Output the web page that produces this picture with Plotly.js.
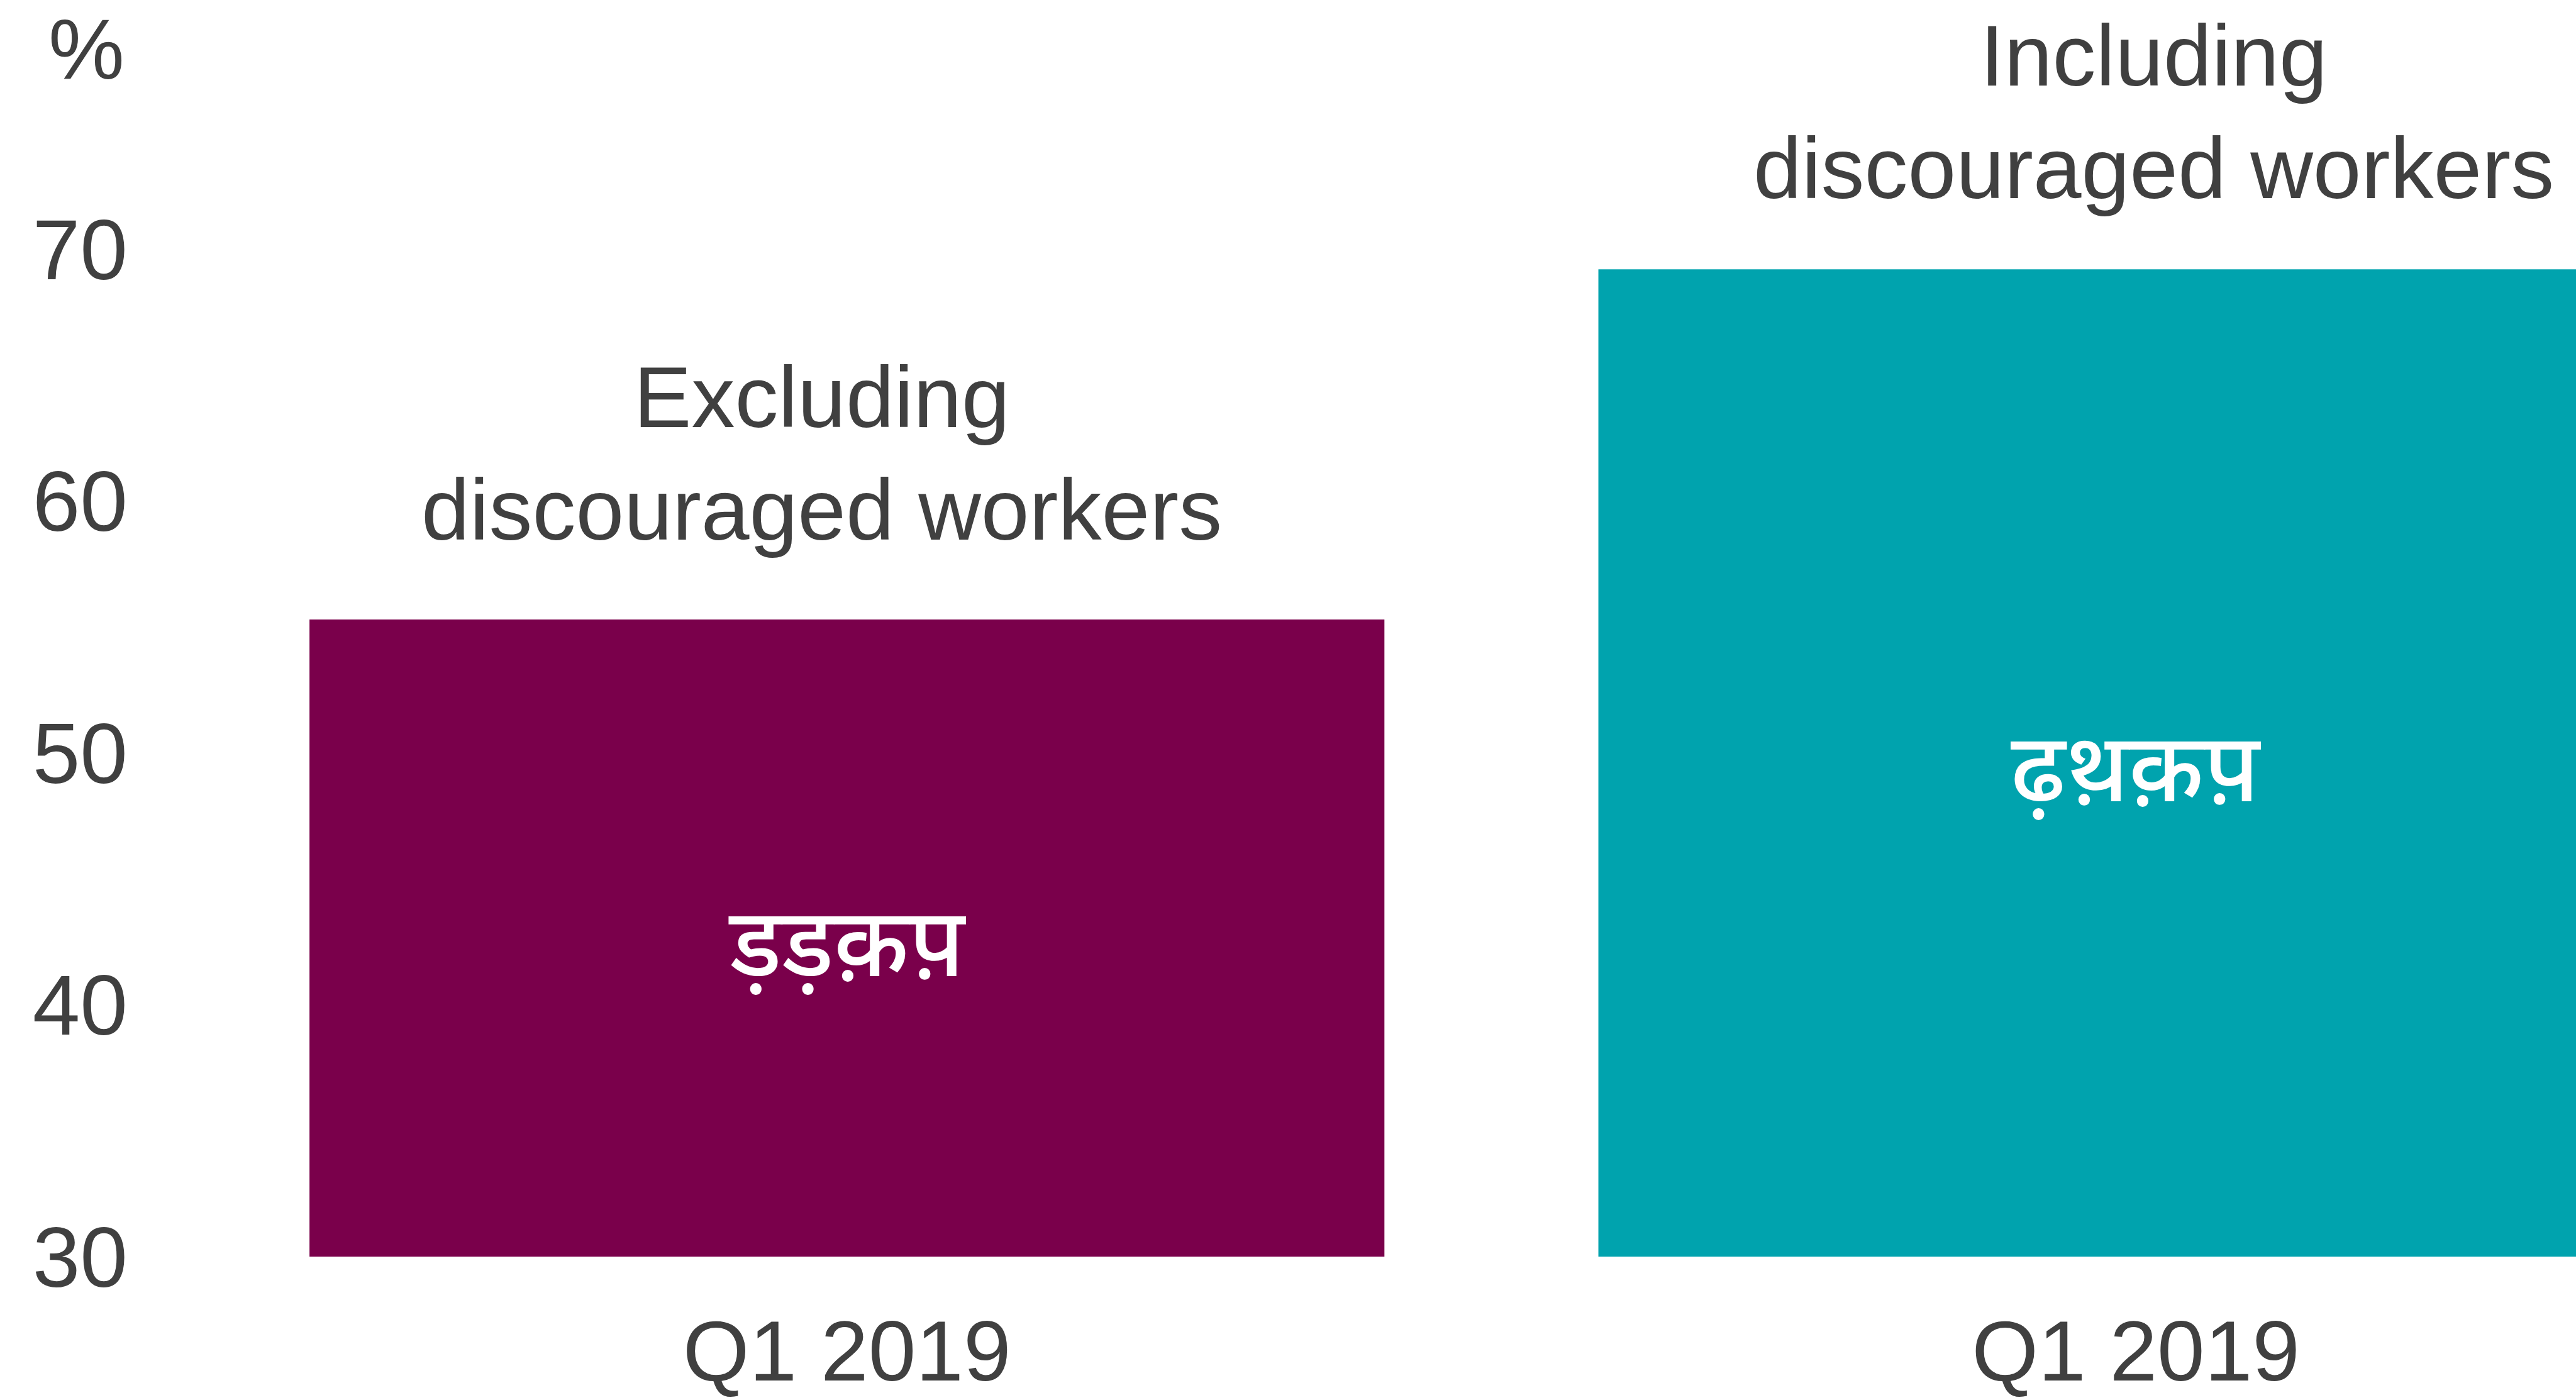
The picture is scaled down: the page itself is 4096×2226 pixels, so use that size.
<!DOCTYPE html>
<html>
<head>
<meta charset="utf-8">
<script src="https://cdn.plot.ly/plotly-3.0.1.min.js"></script>
<style>
  html, body { margin: 0; padding: 0; background: #ffffff; }
  #chart { width: 4096px; height: 2226px; }
</style>
</head>
<body>
<div id="chart"></div>
<script>
// ---- data ----
const categories = ["Q1 2019", "Q1 2019"];
const seriesNames = ["Excluding<br>discouraged workers", "Including<br>discouraged workers"];
const values = [55.3, 69.2];
const barLabels = ["ड़ड़क़प़", "ढ़थ़क़प़"];
const yTicks = [30, 40, 50, 60, 70];
const yUnit = "%";

// ---- style ----
const colors = ["#7A004B", "#00A3AE"];
const textColor = "#404040";
const fontFamily = "'Liberation Sans', Arial, sans-serif";
const fontSize = 136;

const xIdx = categories.map((c, i) => i);

const trace = {
  type: "bar",
  x: xIdx,
  y: values,
  width: 0.834,
  marker: { color: colors, line: { width: 0 } },
  hoverinfo: "skip",
  showlegend: false
};

const annotations = [];
const titleShift = [{ dx: -40, dy: 264 }, { dx: 28, dy: 251 }];
values.forEach((v, i) => {
  annotations.push({
    x: xIdx[i], y: v, xref: "x", yref: "y",
    text: seriesNames[i], showarrow: false,
    xanchor: "center", yanchor: "middle",
    xshift: titleShift[i].dx, yshift: titleShift[i].dy,
    align: "center",
    font: { family: fontFamily, size: 138, color: textColor }
  });
  annotations.push({
    x: xIdx[i], y: (yTicks[0] + v) / 2, xref: "x", yref: "y",
    text: barLabels[i], showarrow: false,
    xanchor: "center", yanchor: "middle",
    yshift: -24,
    font: { family: "'Noto Sans Devanagari', 'Noto Sans', sans-serif", size: 152, color: "#ffffff", weight: 500 }
  });
});

const W = 4096, H = 2226;
const margin = { l: 322, r: 0, t: 196, b: 228, pad: 0 };
const pw = W - margin.l - margin.r, ph = H - margin.t - margin.b;
annotations.push({
  x: (200 - margin.l) / pw, y: (H - margin.b - 78) / ph, xref: "paper", yref: "paper",
  text: yUnit, showarrow: false,
  xanchor: "right", yanchor: "middle",
  font: { family: fontFamily, size: fontSize, color: textColor }
});

const layout = {
  width: W, height: H,
  margin: margin,
  paper_bgcolor: "#ffffff",
  plot_bgcolor: "#ffffff",
  font: { family: fontFamily, size: fontSize, color: textColor },
  xaxis: {
    range: [-0.5, 1.3415],
    tickvals: xIdx, ticktext: categories,
    showgrid: false, zeroline: false, showline: false, ticks: "",
    ticklabelstandoff: 60,
    tickfont: { family: fontFamily, size: fontSize, color: textColor },
    fixedrange: true
  },
  yaxis: {
    range: [30, 75],
    tickvals: yTicks,
    showgrid: false, zeroline: false, showline: false, ticks: "",
    ticklabelstandoff: 118,
    tickfont: { family: fontFamily, size: fontSize, color: textColor },
    fixedrange: true
  },
  annotations: annotations,
  bargap: 0.166
};

Plotly.newPlot("chart", [trace], layout, { displayModeBar: false, staticPlot: true });
</script>
</body>
</html>
